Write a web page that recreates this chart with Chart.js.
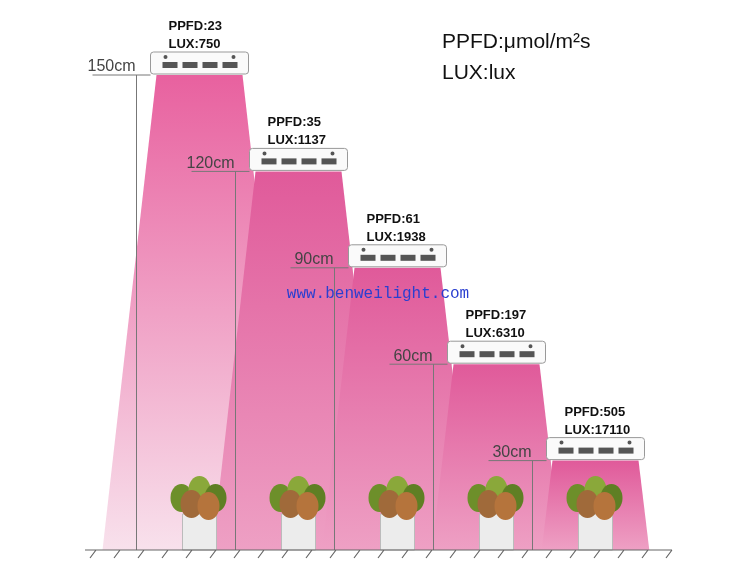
<!DOCTYPE html>
<html lang="en">
<head>
<meta charset="UTF-8">
<title>Grow light PPFD by height</title>
<script src="https://cdn.jsdelivr.net/npm/chart.js"></script>
<style>
  body { margin: 0; background: #fff; }
  #wrap { width: 750px; height: 586px; }
</style>
</head>
<body>
<div id="wrap"><canvas id="c"></canvas></div>
<script>
const heights = [150, 120, 90, 60, 30];
const heightLabels = ['150cm', '120cm', '90cm', '60cm', '30cm'];
const ppfd = [23, 35, 61, 197, 505];
const lux = [750, 1137, 1938, 6310, 17110];

// draws cones, lamps, plants and labels from the bar elements' scale positions
const lampPlugin = {
  id: 'lamps',
  beforeDatasetsDraw(chart) {
    const { ctx, scales: { y } } = chart;
    const ground = y.getPixelForValue(0);
    const bars = chart.getDatasetMeta(0).data;
    ctx.save();
    bars.forEach((bar, i) => {
      const top = y.getPixelForValue(heights[i]) + 7;
      const half = 43;
      const spread = heights[i] * 0.36;
      const g = ctx.createLinearGradient(0, top, 0, ground);
      if (i === 0) {
        g.addColorStop(0, '#e8619f');
        g.addColorStop(1, '#f8e1ec');
      } else {
        g.addColorStop(0, '#e05a9a');
        g.addColorStop(1, '#eea0c4');
      }
      ctx.fillStyle = g;
      ctx.beginPath();
      ctx.moveTo(bar.x - half, top);
      ctx.lineTo(bar.x + half, top);
      ctx.lineTo(bar.x + half + spread, ground);
      ctx.lineTo(bar.x - half - spread, ground);
      ctx.closePath();
      ctx.fill();
    });
    ctx.restore();
  },
  afterDatasetsDraw(chart) {
    const { ctx, scales: { y } } = chart;
    const ground = y.getPixelForValue(0);
    const bars = chart.getDatasetMeta(0).data;
    ctx.save();
    bars.forEach((bar, i) => {
      const hy = y.getPixelForValue(heights[i]);
      const left = bar.x - 49;
      // height guide lines
      ctx.strokeStyle = '#777';
      ctx.lineWidth = 1;
      ctx.beginPath();
      ctx.moveTo(left - 58, hy + 7);
      ctx.lineTo(left, hy + 7);
      ctx.moveTo(left - 14, hy + 7);
      ctx.lineTo(left - 14, ground);
      ctx.stroke();
      ctx.fillStyle = '#444';
      ctx.font = '16px Arial, "Liberation Sans", sans-serif';
      ctx.textAlign = 'right';
      ctx.textBaseline = 'bottom';
      ctx.fillText(heightLabels[i], left - 15, hy + 7);
      // lamp body
      ctx.fillStyle = '#fafafa';
      ctx.strokeStyle = '#999';
      ctx.beginPath();
      ctx.roundRect(left, hy - 16, 98, 22, 3);
      ctx.fill();
      ctx.stroke();
      ctx.fillStyle = '#555';
      for (let k = 0; k < 4; k++) {
        ctx.fillRect(left + 12 + k * 20, hy - 6, 15, 6);
      }
      ctx.beginPath();
      ctx.arc(left + 15, hy - 11, 2, 0, Math.PI * 2);
      ctx.arc(left + 83, hy - 11, 2, 0, Math.PI * 2);
      ctx.fill();
      // values
      ctx.fillStyle = '#111';
      ctx.font = '600 13px Arial, "Liberation Sans", sans-serif';
      ctx.textAlign = 'left';
      ctx.textBaseline = 'alphabetic';
      ctx.fillText('PPFD:' + ppfd[i], left + 18, hy - 38);
      ctx.fillText('LUX:' + lux[i], left + 18, hy - 20);
      // pot + plant
      ctx.fillStyle = '#ececec';
      ctx.strokeStyle = '#bbb';
      ctx.beginPath();
      ctx.rect(bar.x - 17, ground - 36, 34, 36);
      ctx.fill();
      ctx.stroke();
      const leaves = [[-18, -52, '#6d8f2a'], [0, -60, '#8aa83a'], [16, -52, '#5f7f24'], [-8, -46, '#a06a3a'], [9, -44, '#b5743c']];
      leaves.forEach(([dx, dy, c]) => {
        ctx.fillStyle = c;
        ctx.beginPath();
        ctx.ellipse(bar.x + dx, ground + dy, 11, 14, 0, 0, Math.PI * 2);
        ctx.fill();
      });
    });
    // ground line with hatching
    ctx.strokeStyle = '#666';
    ctx.lineWidth = 1.2;
    ctx.beginPath();
    ctx.moveTo(85, ground);
    ctx.lineTo(672, ground);
    for (let x = 90; x < 672; x += 24) {
      ctx.moveTo(x, ground + 8);
      ctx.lineTo(x + 6, ground);
    }
    ctx.stroke();
    // watermark
    ctx.fillStyle = '#2a3fd0';
    ctx.font = '16px "Liberation Mono", "DejaVu Sans Mono", monospace';
    ctx.textAlign = 'center';
    ctx.fillText('www.benweilight.com', 378, 298);
    // units legend
    ctx.fillStyle = '#111';
    ctx.font = '21px Arial, "Liberation Sans", sans-serif';
    ctx.textAlign = 'left';
    ctx.fillText('PPFD:μmol/m²s', 442, 48);
    ctx.fillText('LUX:lux', 442, 79);
    ctx.restore();
  }
};

new Chart(document.getElementById('c'), {
  type: 'bar',
  data: {
    labels: heightLabels,
    datasets: [{
      data: heights,
      backgroundColor: 'rgba(0,0,0,0)'
    }]
  },
  options: {
    responsive: true,
    maintainAspectRatio: false,
    animation: false,
    layout: { padding: { left: 150, right: 105, top: 68, bottom: 36 } },
    plugins: { legend: { display: false }, tooltip: { enabled: false } },
    scales: {
      x: { display: false },
      y: { display: false, min: 0, max: 150 }
    }
  },
  plugins: [lampPlugin]
});
</script>
</body>
</html>
